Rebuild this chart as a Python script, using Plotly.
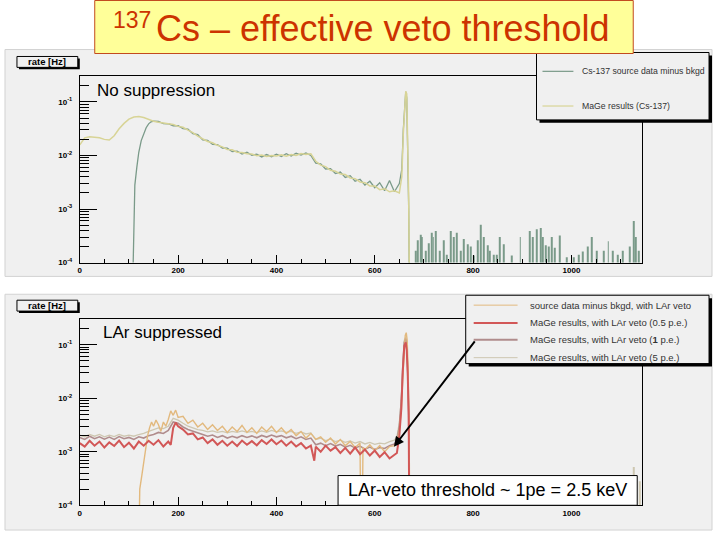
import plotly.graph_objects as go

W, H = 720, 540
FONT = "Liberation Sans, Arial, sans-serif"

# ---------------- top panel: no suppression ----------------
# MaGe simulation (Cs-137), rate [Hz] per energy bin [keV]
top_mage_e = list(range(0, 660, 10)) + [655, 658, 661, 663, 665, 667, 669, 672, 1144]
top_mage_rate = [
    0.0158, 0.0214, 0.0224, 0.0222, 0.0214, 0.0200, 0.0195, 0.0234, 0.0316, 0.0398,
    0.0479, 0.0525, 0.0537, 0.0513, 0.0468, 0.0437, 0.0420, 0.0405, 0.0380, 0.0378,
    0.0350, 0.0336, 0.0298, 0.0268, 0.0230, 0.0208, 0.0183, 0.0173, 0.0155, 0.0145,
    0.0130, 0.0128, 0.0115, 0.0114, 0.0108, 0.0107, 0.0099, 0.0102, 0.0096, 0.0100,
    0.0098, 0.0103, 0.0097, 0.0104, 0.0100, 0.0109, 0.0105, 0.0108, 0.0078, 0.0066,
    0.0062, 0.0053, 0.0051, 0.0045, 0.0044, 0.0038, 0.0037, 0.0032, 0.0031, 0.0027,
    0.0027, 0.0023, 0.0024, 0.0021, 0.0022, 0.0020,
    0.0040, 0.025, 0.112, 0.158, 0.141, 0.025, 0.0016, 1e-6, 1e-6,
]

# Cs-137 source data minus background
top_data_e = [104, 110, 112, 116, 120, 125, 130, 135, 140, 145, 150] + \
    list(range(160, 660, 10)) + [655, 658, 661, 663, 665, 667, 669, 672]
top_data_rate = [
    1e-6, 0.00118, 0.0028, 0.0060, 0.0115, 0.0190, 0.0260, 0.0330, 0.0390, 0.0425, 0.0440,
    0.0432, 0.0395, 0.0392, 0.0360, 0.0362, 0.0318, 0.0310, 0.0255, 0.0245, 0.0196,
    0.0192, 0.0162, 0.0160, 0.0138, 0.0137, 0.0118, 0.0121, 0.0106, 0.0115, 0.0101,
    0.0106, 0.0094, 0.0104, 0.0095, 0.0106, 0.0096, 0.0108, 0.0098, 0.0110, 0.0102,
    0.0112, 0.0100, 0.0072, 0.0070, 0.0056, 0.0057, 0.0046, 0.0049, 0.0039, 0.0042,
    0.0033, 0.0036, 0.0028, 0.0033, 0.0025, 0.0031, 0.0022, 0.0034, 0.0021, 0.0030,
    0.0055, 0.030, 0.120, 0.155, 0.120, 0.018, 0.0010, 1e-6,
]

# isolated non-empty bins above the full-energy peak
top_tail_e = [683, 688, 693, 696, 703, 709, 715, 719, 725, 733, 740, 746, 754, 761, 766,
              775, 782, 789, 795, 801, 809, 816, 822, 829, 834, 842, 849, 855, 862, 879,
              896, 915, 921, 930, 937, 942, 947, 954, 960, 967, 977, 991, 1004, 1014, 1023,
              1034, 1041, 1051, 1065, 1075, 1085, 1095, 1105, 1118, 1126, 1130, 1138]
top_tail_rate = [1.66e-4, 2.6e-4, 3.3e-4, 3.0e-4, 1.66e-4, 2.3e-4, 3.6e-4, 3.0e-4, 3.9e-4, 1.66e-4,
                 2.6e-4, 1.4e-4, 3.9e-4, 3.0e-4, 3.6e-4, 1.66e-4, 2.75e-4, 2.2e-4, 2.0e-4, 1.35e-4,
                 2.6e-4, 5.1e-4, 3.0e-4, 2.1e-4, 1.66e-4, 1.4e-4, 1.4e-4, 3.0e-4, 2.2e-4, 1.35e-4,
                 3.0e-4, 3.9e-4, 3.0e-4, 4.2e-4, 4.4e-4, 3.0e-4, 2.1e-4, 2.0e-4, 3.0e-4, 1.9e-4,
                 3.2e-4, 1.26e-4, 1.26e-4, 1.4e-4, 1.6e-4, 2.0e-4, 3.0e-4, 1.66e-4, 1.66e-4, 2.5e-4,
                 1.66e-4, 1.4e-4, 1.66e-4, 2.0e-4, 6.0e-4, 3.0e-4, 1.66e-4]

# ---------------- bottom panel: LAr suppressed ----------------
bot_data_e = [118, 122, 126, 130, 134, 138, 142, 146, 150, 155, 160, 165, 170, 175, 180,
              185, 190, 195, 200] + list(range(210, 580, 10)) + [573, 576] + \
    list(range(580, 650, 10)) + [645, 650, 654, 657, 660, 662, 664, 666, 668, 670, 672]
bot_data_rate = [
    1e-6, 2.0e-4, 3.5e-4, 6.5e-4, 1.2e-3, 2.0e-3, 2.8e-3, 3.6e-3, 3.0e-3, 3.9e-3,
    3.2e-3, 2.4e-3, 3.6e-3, 3.0e-3, 4.0e-3, 5.8e-3, 4.8e-3, 6.0e-3, 4.4e-3,
    4.6e-3, 3.4e-3, 3.9e-3, 2.9e-3, 3.4e-3, 2.6e-3, 3.2e-3, 2.5e-3, 3.0e-3, 2.3e-3,
    2.9e-3, 2.4e-3, 3.1e-3, 2.3e-3, 2.8e-3, 2.2e-3, 2.9e-3, 2.4e-3, 3.0e-3, 2.3e-3,
    2.8e-3, 2.2e-3, 2.6e-3, 2.0e-3, 2.4e-3, 1.8e-3, 2.2e-3, 1.7e-3, 1.9e-3, 1.5e-3,
    1.8e-3, 1.4e-3, 1.7e-3, 1.3e-3, 1.55e-3, 1.2e-3, 1.45e-3,
    1e-6, 1.2e-3,
    1.1e-3, 1.35e-3, 1.05e-3, 1.3e-3, 1.0e-3, 1.25e-3, 1.3e-3,
    1.5e-3, 2.5e-3, 6.0e-3, 0.025, 0.090, 0.150, 0.168, 0.120, 0.030, 0.002, 1e-6,
]

bot_red_e = list(range(0, 190, 10)) + [185, 190, 195, 200] + list(range(210, 480, 10)) + \
    [477] + list(range(480, 650, 10)) + [645, 650, 654, 657, 660, 663, 665, 667, 669, 671]
bot_red_e = sorted(bot_red_e)
bot_red_rate = [
    1.45e-3, 1.25e-3, 1.60e-3, 1.30e-3, 1.55e-3, 1.20e-3, 1.50e-3, 1.28e-3, 1.62e-3, 1.22e-3,
    1.48e-3, 1.15e-3, 1.55e-3, 1.30e-3, 1.60e-3, 1.35e-3, 1.65e-3, 1.25e-3, 1.55e-3,
    1.35e-3, 2.8e-3, 3.5e-3, 3.0e-3,
    2.6e-3, 2.1e-3, 2.2e-3, 1.7e-3, 1.85e-3, 1.45e-3, 1.70e-3, 1.35e-3, 1.60e-3, 1.30e-3,
    1.55e-3, 1.28e-3, 1.62e-3, 1.35e-3, 1.58e-3, 1.32e-3, 1.65e-3, 1.40e-3, 1.70e-3, 1.38e-3,
    1.62e-3, 1.30e-3, 1.55e-3, 1.25e-3, 1.45e-3, 1.15e-3, 1.30e-3,
    0.68e-3,
    1.25e-3, 1.00e-3, 1.30e-3, 1.05e-3, 1.22e-3, 0.95e-3, 1.18e-3, 0.92e-3, 1.20e-3, 0.90e-3,
    1.10e-3, 0.85e-3, 1.05e-3, 0.80e-3, 0.98e-3, 0.75e-3, 0.88e-3,
    0.95e-3, 2.0e-3, 6.3e-3, 0.032, 0.095, 0.110, 0.080, 0.030, 0.005, 1e-6,
]

bot_pe_e = list(range(0, 650, 10)) + [645, 650, 654, 657, 660, 663, 665, 667, 669, 671]
bot_pe_e = sorted(bot_pe_e)
bot_1pe_rate = [
    1.85e-3, 1.70e-3, 1.95e-3, 1.75e-3, 1.90e-3, 1.72e-3, 1.88e-3, 1.70e-3, 1.92e-3, 1.75e-3,
    1.85e-3, 1.70e-3, 1.90e-3, 1.80e-3, 2.0e-3, 2.1e-3, 2.3e-3, 2.2e-3, 2.5e-3, 3.6e-3,
    3.4e-3, 2.9e-3, 2.6e-3, 2.4e-3, 2.2e-3, 2.1e-3, 1.95e-3, 2.05e-3, 1.85e-3, 2.0e-3,
    1.8e-3, 1.95e-3, 1.82e-3, 2.0e-3, 1.85e-3, 1.98e-3, 1.82e-3, 2.02e-3, 1.88e-3, 2.05e-3,
    1.9e-3, 2.0e-3, 1.82e-3, 1.95e-3, 1.75e-3, 1.9e-3, 1.7e-3, 1.8e-3, 1.35e-3, 1.45e-3,
    1.3e-3, 1.42e-3, 1.28e-3, 1.38e-3, 1.22e-3, 1.32e-3, 1.18e-3, 1.28e-3, 1.12e-3, 1.22e-3,
    1.1e-3, 1.2e-3, 1.15e-3, 1.3e-3, 1.4e-3,
    1.6e-3, 3.0e-3, 0.009, 0.04, 0.11, 0.13, 0.10, 0.03, 0.004, 1e-6,
]
bot_5pe_rate = [
    2.05e-3, 1.9e-3, 2.1e-3, 1.95e-3, 2.1e-3, 1.9e-3, 2.05e-3, 1.92e-3, 2.1e-3, 1.95e-3,
    2.05e-3, 1.95e-3, 2.1e-3, 2.2e-3, 2.4e-3, 2.6e-3, 2.8e-3, 2.7e-3, 3.0e-3, 4.2e-3,
    3.9e-3, 3.4e-3, 3.0e-3, 2.8e-3, 2.6e-3, 2.5e-3, 2.35e-3, 2.45e-3, 2.3e-3, 2.4e-3,
    2.25e-3, 2.4e-3, 2.3e-3, 2.45e-3, 2.3e-3, 2.4e-3, 2.28e-3, 2.45e-3, 2.3e-3, 2.5e-3,
    2.35e-3, 2.45e-3, 2.3e-3, 2.4e-3, 2.2e-3, 2.35e-3, 2.15e-3, 2.25e-3, 1.7e-3, 1.8e-3,
    1.62e-3, 1.72e-3, 1.55e-3, 1.65e-3, 1.5e-3, 1.6e-3, 1.45e-3, 1.55e-3, 1.4e-3, 1.5e-3,
    1.38e-3, 1.45e-3, 1.4e-3, 1.55e-3, 1.65e-3,
    1.9e-3, 3.5e-3, 0.010, 0.045, 0.12, 0.14, 0.11, 0.035, 0.005, 1e-6,
]

bot_tail_e = [1126, 1140]
bot_tail_rate = [5.2e-4, 2.8e-4]

x_ticks = [0, 200, 400, 600, 800, 1000]
y_ticks = [1e-4, 1e-3, 1e-2, 1e-1]
y_ticktext = ["10<sup>-4</sup>", "10<sup>-3</sup>", "10<sup>-2</sup>", "10<sup>-1</sup>"]

top_legend = ["Cs-137 source data minus bkgd", "MaGe results (Cs-137)"]
bot_legend = ["source data minus bkgd, with LAr veto",
              "MaGe results, with LAr veto (0.5 p.e.)",
              "MaGe results, with LAr veto (<b>1</b> p.e.)",
              "MaGe results, with LAr veto (5 p.e.)"]

C_DATA = "#7A9A89"
C_MAGE = "#D8D496"
C_TAN = "#E2B97E"
C_RED = "#D25757"
C_1PE = "#B08C8C"
C_5PE = "#CEC7B1"


def px(x):
    return x / W


def py(y):
    return 1 - y / H


fig = go.Figure()

# top panel traces
fig.add_trace(go.Scatter(x=top_data_e, y=top_data_rate, mode="lines",
                         line=dict(color=C_DATA, width=1.3), xaxis="x", yaxis="y"))
fig.add_trace(go.Bar(x=top_tail_e, y=top_tail_rate, width=2, marker_color=C_DATA,
                     marker_line_width=0, xaxis="x", yaxis="y"))
fig.add_trace(go.Scatter(x=top_mage_e, y=top_mage_rate, mode="lines",
                         line=dict(color=C_MAGE, width=1.5), xaxis="x", yaxis="y"))

# bottom panel traces
fig.add_trace(go.Scatter(x=bot_pe_e, y=bot_5pe_rate, mode="lines",
                         line=dict(color=C_5PE, width=1.3), xaxis="x2", yaxis="y2"))
fig.add_trace(go.Scatter(x=bot_pe_e, y=bot_1pe_rate, mode="lines",
                         line=dict(color=C_1PE, width=1.6), xaxis="x2", yaxis="y2"))
fig.add_trace(go.Scatter(x=bot_data_e, y=bot_data_rate, mode="lines",
                         line=dict(color=C_TAN, width=1.4), xaxis="x2", yaxis="y2"))
fig.add_trace(go.Bar(x=bot_tail_e, y=bot_tail_rate, width=2, marker_color=C_5PE,
                     marker_line_width=0, xaxis="x2", yaxis="y2"))
fig.add_trace(go.Scatter(x=bot_red_e, y=bot_red_rate, mode="lines",
                         line=dict(color=C_RED, width=2), xaxis="x2", yaxis="y2"))

minor_vals = [m * 10 ** d for d in range(-4, 0) for m in range(2, 10)]
tickfont = dict(family=FONT, size=8, color="black", weight="bold")

xcommon = dict(range=[0, 1144], tickmode="array", tickvals=x_ticks, ticks="inside",
               ticklen=8, tickcolor="black",
               minor=dict(tickmode="linear", tick0=0, dtick=50, ticks="inside", ticklen=4,
                          tickcolor="black"),
               showline=True, linecolor="black", linewidth=1, mirror=True,
               showgrid=False, zeroline=False, tickfont=tickfont, domain=[px(78), px(642)])
ycommon = dict(type="log", range=[-4, -0.52], tickmode="array", tickvals=y_ticks,
               ticktext=y_ticktext, ticks="inside", ticklen=17, tickcolor="black",
               minor=dict(tickmode="array", tickvals=minor_vals, ticks="inside", ticklen=9,
                          tickcolor="black"),
               showline=True, linecolor="black", linewidth=1, mirror=True,
               showgrid=False, zeroline=False, tickfont=tickfont, ticklabelstandoff=5)

shapes = []
# canvas pads
for y0, y1 in [(50, 279), (297, 535)]:
    shapes.append(dict(type="rect", xref="paper", yref="paper", x0=px(3), x1=px(712),
                       y0=py(y1), y1=py(y0), fillcolor="#F0F0F0",
                       line=dict(color="#D2D2D2", width=1), layer="below"))

annotations = []


def box(x0, y0, x1, y1, fill, shadow=0, line="black"):
    if shadow:
        shapes.append(dict(type="rect", xref="paper", yref="paper", x0=px(x0 + shadow),
                           x1=px(x1 + shadow), y0=py(y1 + shadow), y1=py(y0 + shadow),
                           fillcolor="black", line=dict(width=0)))
    shapes.append(dict(type="rect", xref="paper", yref="paper", x0=px(x0), x1=px(x1),
                       y0=py(y1), y1=py(y0), fillcolor=fill, line=dict(color=line, width=1)))


def text(x, y, s, size, anchor="left", color="black", **kw):
    annotations.append(dict(xref="paper", yref="paper", x=px(x), y=py(y), text=s,
                            showarrow=False, xanchor=anchor, yanchor="middle",
                            font=dict(family=FONT, size=size, color=color, **kw)))


# "rate [Hz]" axis title boxes
for ytop in [57, 303]:
    box(15, ytop, 76, ytop + 11, "#F0F0F0", shadow=2)
    text(45.5, ytop + 5.5, "rate [Hz]", 9.5, anchor="center", weight="bold")

# top legend
box(536, 53, 709, 121, "#F0F0F0", shadow=3)
for yl, col, lab in zip([72, 107], [C_DATA, C_MAGE], top_legend):
    shapes.append(dict(type="line", xref="paper", yref="paper", x0=px(542), x1=px(573),
                       y0=py(yl), y1=py(yl), line=dict(color=col, width=1.2)))
    text(580, yl, lab, 8.7, color="#333")

# bottom legend
box(465, 298, 709, 367, "#F0F0F0", shadow=3)
for yl, col, wd, lab in zip([308, 326, 343, 361], [C_TAN, C_RED, C_1PE, C_5PE],
                            [1, 2, 2, 1], bot_legend):
    shapes.append(dict(type="line", xref="paper", yref="paper", x0=px(473), x1=px(517),
                       y0=py(yl), y1=py(yl), line=dict(color=col, width=wd)))
    text(527, yl, lab, 9.5, color="#333")

# panel labels
text(93, 91, "No suppression", 17)
text(99, 336, "LAr suppressed", 17)

# threshold note + arrow
box(337, 480, 637, 510, "white")
text(487, 495, "LAr-veto threshold ~ 1pe = 2.5 keV", 18, anchor="center")
annotations.append(dict(xref="paper", yref="paper", x=px(393), y=py(451), ax=82, ay=-107,
                        text="", showarrow=True, arrowhead=2, arrowsize=1, arrowwidth=2,
                        arrowcolor="black", standoff=0))

# slide title (mass number set as a raised, smaller label)
box(93, 0.5, 633, 54, "#FFFF99", line="#C24A1E")
text(151, 20, "137", 23, anchor="right", color="#CC3300")
text(152, 29, "Cs – effective veto threshold", 36, color="#CC3300")

fig.update_layout(
    width=W, height=H, autosize=False,
    margin=dict(l=0, r=0, t=0, b=0),
    paper_bgcolor="white", plot_bgcolor="#F0F0F0",
    showlegend=False, barmode="overlay",
    xaxis=dict(anchor="y", **xcommon),
    yaxis=dict(anchor="x", domain=[py(265), py(77)], **ycommon),
    xaxis2=dict(anchor="y2", **xcommon),
    yaxis2=dict(anchor="x2", domain=[py(510), py(322)], **ycommon),
    shapes=shapes, annotations=annotations,
)

# the page body has a default 8px margin; drop it so the slide sits at the window origin
fig.write_html("out.html", config={"displayModeBar": False},
               post_script="document.body.style.margin='0px';")
